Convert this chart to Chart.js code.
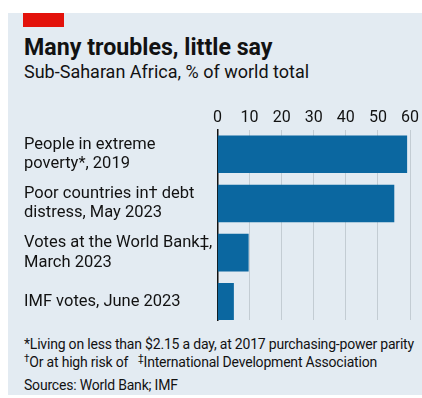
<!DOCTYPE html>
<html lang="en">
<head>
<meta charset="UTF-8">
<title>Many troubles, little say</title>
<script src="https://cdn.jsdelivr.net/npm/chart.js"></script>
<style>
  body { margin: 0; background: #fff; font-family: Roboto, sans-serif; color: #121212; }
  #panel { position: absolute; left: 8px; top: 13px; width: 414px; height: 382px; background: #e3ebf2; }
  #red { position: absolute; left: 23px; top: 13px; width: 41px; height: 14px; background: #e3120b; }
  .txt { position: absolute; left: 24px; white-space: nowrap; }
  #title { top: 33px; font-size: 23.2px; font-weight: bold; line-height: 28px; }
  #sub { top: 61px; font-size: 18px; line-height: 22px; }
  #notes { top: 335px; font-size: 14px; line-height: 18px; letter-spacing: -0.2px; }
  .sup { font-size: 10px; position: relative; top: -5px; }
  #chart { position: absolute; left: 0; top: 95px; }
</style>
</head>
<body>
<div id="panel"></div>
<div id="red"></div>
<div class="txt" id="title">Many troubles, little say</div>
<div class="txt" id="sub">Sub-Saharan Africa, % of world total</div>
<canvas id="chart" width="422" height="230"></canvas>
<div class="txt" id="notes">*Living on less than $2.15 a day, at 2017 purchasing-power parity<br>
<span class="sup">†</span>Or at high risk of &nbsp;&nbsp;<span class="sup">‡</span>International Development Association<br>
<span style="position:relative; top:3px">Sources: World Bank; IMF</span></div>

<script>
// 데이터
const categories = [
    ['People in extreme', 'poverty*, 2019'],
    ['Poor countries in† debt', 'distress, May 2023'],
    ['Votes at the World Bank‡,', 'March 2023'],
    'IMF votes, June 2023'
];
const shares = [59, 55, 9.6, 5];
const xTicks = [0, 10, 20, 30, 40, 50, 60];

const points = shares.map((v, i) => ({ x: v, y: i }));

new Chart(document.getElementById('chart'), {
    type: 'bar',
    data: {
        datasets: [{
            data: points,
            backgroundColor: '#0b67a0',
            barThickness: 37
        }]
    },
    options: {
        indexAxis: 'y',
        responsive: false,
        animation: false,
        layout: { padding: { left: 24, right: 12, top: 10, bottom: 5 } },
        plugins: { legend: { display: false }, tooltip: { enabled: false } },
        scales: {
            x: {
                position: 'top',
                min: 0,
                max: 60,
                afterBuildTicks: s => { s.ticks = xTicks.map(v => ({ value: v })); },
                ticks: { color: '#121212', font: { family: 'Roboto', size: 16 }, padding: 3 },
                grid: { color: '#c3ccd3', lineWidth: 1, drawTicks: false },
                border: { display: false }
            },
            y: {
                type: 'linear',
                reverse: true,
                offset: false,
                min: -0.49,
                max: 3.37,
                // 라벨 높이 때문에 생기는 위아래 여백 제거
                afterFit: s => { s.width = 193.5; s.paddingTop = 0; s.paddingBottom = 0; },
                ticks: {
                    stepSize: 1,
                    includeBounds: false,
                    crossAlign: 'far',
                    color: '#121212',
                    font: { family: 'Roboto', size: 16.5, lineHeight: 1.2 },
                    callback: v => Number.isInteger(v) ? categories[v] : ''
                },
                grid: { display: false },
                border: { color: '#111', width: 1.5 }
            }
        }
    }
});
</script>
</body>
</html>
